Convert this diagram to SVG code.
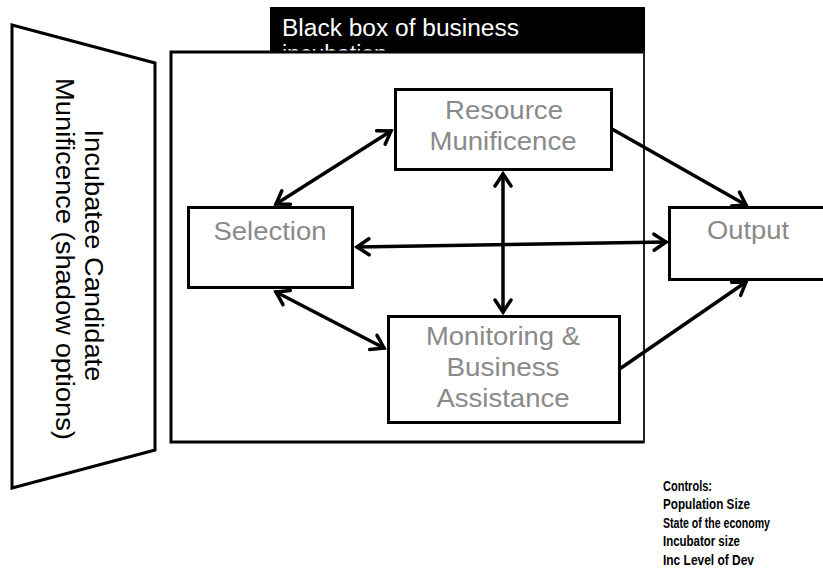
<svg xmlns="http://www.w3.org/2000/svg" width="823" height="577" viewBox="0 0 823 577">
<style>
  .box { fill: #ffffff; stroke: #000000; stroke-width: 3; }
  .lbl { font-family: "Liberation Sans", Arial, sans-serif; font-size: 26px; fill: #8a8a8a; text-anchor: middle; }
  .side { font-family: "Liberation Sans", Arial, sans-serif; font-size: 26px; fill: #000000; text-anchor: middle; }
  .ttl { font-family: "Liberation Sans", Arial, sans-serif; font-size: 23px; fill: #ffffff; }
  .ctl { font-family: "Liberation Sans", Arial, sans-serif; font-size: 14px; font-weight: bold; fill: #000000; }
  .con { fill: none; stroke: #000000; stroke-width: 3.5; stroke-linecap: round; }
</style>
<defs>
  <marker id="arr" markerUnits="userSpaceOnUse" viewBox="-16 -12 20 24" markerWidth="20" markerHeight="24" refX="0" refY="0" orient="auto-start-reverse">
    <path d="M-12,-8 L0,0 L-12,8" fill="none" stroke="#000000" stroke-width="3.5" stroke-linecap="round" stroke-linejoin="miter"/>
  </marker>
</defs>
<rect width="823" height="577" fill="#ffffff"/>

<g id="trapezoid">
  <polygon points="12,25 155,63 155,450 12,488" fill="#ffffff" stroke="#000000" stroke-width="3"/>
  <text class="side" transform="translate(85,259) rotate(90)">
    <tspan x="0" y="0" textLength="252" lengthAdjust="spacingAndGlyphs">Incubatee Candidate</tspan>
    <tspan x="0" y="29" textLength="362" lengthAdjust="spacingAndGlyphs">Munificence (shadow options)</tspan>
  </text>
</g>

<g id="blackbox-title">
  <rect x="270" y="7" width="375" height="50" fill="#000000"/>
  <text class="ttl" x="282" y="36" textLength="237" lengthAdjust="spacingAndGlyphs">Black box of business</text>
  <text class="ttl" x="282" y="62">incubation</text>
</g>

<g id="frame">
  <rect x="171" y="52" width="473" height="390" fill="#ffffff"/>
  <path d="M644,52 L171,52 L171,442 L644,442" fill="none" stroke="#000000" stroke-width="3"/>
  <line x1="644" y1="51" x2="644" y2="443" stroke="#222222" stroke-width="2"/>
</g>

<g id="resource">
  <rect class="box" x="395.5" y="89.5" width="216" height="80"/>
  <text class="lbl" x="504" y="119" textLength="118" lengthAdjust="spacingAndGlyphs">Resource</text>
  <text class="lbl" x="503" y="150" textLength="147" lengthAdjust="spacingAndGlyphs">Munificence</text>
</g>

<g id="selection">
  <rect class="box" x="188.5" y="207.5" width="164" height="80"/>
  <text class="lbl" x="270" y="240" textLength="113" lengthAdjust="spacingAndGlyphs">Selection</text>
</g>

<g id="monitoring">
  <rect class="box" x="388.5" y="316.5" width="231" height="106"/>
  <text class="lbl" x="503" y="345" textLength="154" lengthAdjust="spacingAndGlyphs">Monitoring &amp;</text>
  <text class="lbl" x="503" y="376" textLength="113" lengthAdjust="spacingAndGlyphs">Business</text>
  <text class="lbl" x="503" y="407" textLength="133" lengthAdjust="spacingAndGlyphs">Assistance</text>
</g>

<g id="output">
  <rect class="box" x="669.5" y="207.5" width="170" height="72"/>
  <text class="lbl" x="748" y="239" textLength="82" lengthAdjust="spacingAndGlyphs">Output</text>
</g>

<g id="connectors">
  <path class="con" d="M276,204 L391,131" marker-start="url(#arr)" marker-end="url(#arr)"/>
  <path class="con" d="M357,247 L666,242" marker-start="url(#arr)" marker-end="url(#arr)"/>
  <path class="con" d="M503,174 L503,312" marker-start="url(#arr)" marker-end="url(#arr)"/>
  <path class="con" d="M276,292 L384,348" marker-start="url(#arr)" marker-end="url(#arr)"/>
  <path class="con" d="M612,129 L746,205" marker-end="url(#arr)"/>
  <path class="con" d="M621,368 L746,282" marker-end="url(#arr)"/>
</g>

<g id="controls">
  <text class="ctl" x="663" y="491" textLength="49" lengthAdjust="spacingAndGlyphs">Controls:</text>
  <text class="ctl" x="663" y="509" textLength="87" lengthAdjust="spacingAndGlyphs">Population Size</text>
  <text class="ctl" x="663" y="528" textLength="107" lengthAdjust="spacingAndGlyphs">State of the economy</text>
  <text class="ctl" x="663" y="546" textLength="77" lengthAdjust="spacingAndGlyphs">Incubator size</text>
  <text class="ctl" x="663" y="565" textLength="91" lengthAdjust="spacingAndGlyphs">Inc Level of Dev</text>
</g>
</svg>
